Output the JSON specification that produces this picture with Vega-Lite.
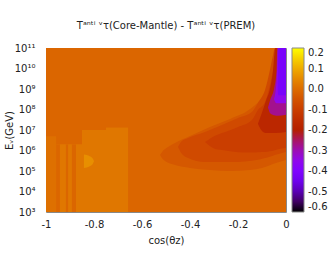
{
  "$schema": "https://vega.github.io/schema/vega-lite/v6.json",
  "width": 240,
  "height": 164,
  "autosize": {"type": "none"},
  "padding": {"left": 46, "top": 48, "right": 46, "bottom": 49},
  "background": "white",
  "config": {
    "font": "DejaVu Sans",
    "view": {"stroke": null},
    "axis": {"grid": false, "ticks": false, "domainColor": "#888888", "domainWidth": 1, "labelColor": "#222222", "titleColor": "#222222", "labelFontSize": 10, "titleFontSize": 10, "titleFontWeight": "normal", "labelFont": "DejaVu Sans", "titleFont": "DejaVu Sans"}
  },
  "title": {"text": "Tᵃⁿᵗⁱ ᵛτ(Core-Mantle) - Tᵃⁿᵗⁱ ᵛτ(PREM)", "frame": "group", "fontSize": 10, "fontWeight": "normal", "color": "#222222", "offset": 12, "font": "DejaVu Sans"},
  "datasets": {
    "cells": [
      {"c1": -1, "c2": 0, "e1": 3, "e2": 11, "T": -0.012},
      {"c1": -1, "c2": -0.958, "e1": 3, "e2": 6.7, "T": 0.008},
      {"c1": -0.958, "c2": -0.85, "e1": 3, "e2": 6.3, "T": 0.02},
      {"c1": -0.85, "c2": -0.658, "e1": 3, "e2": 7.0, "T": 0.02},
      {"c1": -0.75, "c2": -0.658, "e1": 7.0, "e2": 7.12, "T": 0.02},
      {"c1": -0.958, "c2": -0.942, "e1": 3, "e2": 6.3, "T": -0.012},
      {"c1": -0.917, "c2": -0.908, "e1": 3, "e2": 6.3, "T": -0.012},
      {"c1": -0.892, "c2": -0.875, "e1": 3, "e2": 6.3, "T": -0.012}
    ],
    "bands": [
      {"T": 0.06, "c1": -0.842, "e1": 5.15, "e2": 5.8},
      {"T": 0.06, "c1": -0.83, "e1": 5.17, "e2": 5.78},
      {"T": 0.06, "c1": -0.818, "e1": 5.23, "e2": 5.72},
      {"T": 0.06, "c1": -0.806, "e1": 5.33, "e2": 5.62},
      {"T": 0.06, "c1": -0.8, "e1": 5.47, "e2": 5.47},

      {"T": -0.04, "c1": -0.525, "e1": 5.78, "e2": 5.78},
      {"T": -0.04, "c1": -0.515, "e1": 5.6, "e2": 5.95},
      {"T": -0.04, "c1": -0.504, "e1": 5.49, "e2": 6.07},
      {"T": -0.04, "c1": -0.4625, "e1": 5.29, "e2": 6.37},
      {"T": -0.04, "c1": -0.4, "e1": 5.15, "e2": 6.71},
      {"T": -0.04, "c1": -0.317, "e1": 5.05, "e2": 7.15},
      {"T": -0.04, "c1": -0.233, "e1": 5.0, "e2": 7.54},
      {"T": -0.04, "c1": -0.15, "e1": 5.05, "e2": 8.02},
      {"T": -0.04, "c1": -0.1, "e1": 5.15, "e2": 8.61},
      {"T": -0.04, "c1": -0.075, "e1": 5.24, "e2": 9.2},
      {"T": -0.04, "c1": -0.054, "e1": 5.34, "e2": 10.17},
      {"T": -0.04, "c1": -0.042, "e1": 5.39, "e2": 11},
      {"T": -0.04, "c1": 0, "e1": 5.54, "e2": 11},

      {"T": -0.07, "c1": -0.45, "e1": 6.17, "e2": 6.17},
      {"T": -0.07, "c1": -0.435, "e1": 5.85, "e2": 6.45},
      {"T": -0.07, "c1": -0.408, "e1": 5.63, "e2": 6.61},
      {"T": -0.07, "c1": -0.3375, "e1": 5.44, "e2": 6.9},
      {"T": -0.07, "c1": -0.267, "e1": 5.44, "e2": 7.24},
      {"T": -0.07, "c1": -0.2, "e1": 5.44, "e2": 7.59},
      {"T": -0.07, "c1": -0.142, "e1": 5.5, "e2": 7.88},
      {"T": -0.07, "c1": -0.117, "e1": 5.55, "e2": 8.32},
      {"T": -0.07, "c1": -0.0875, "e1": 5.63, "e2": 8.95},
      {"T": -0.07, "c1": -0.067, "e1": 5.7, "e2": 9.93},
      {"T": -0.07, "c1": -0.054, "e1": 5.75, "e2": 10.66},
      {"T": -0.07, "c1": -0.046, "e1": 5.78, "e2": 11},
      {"T": -0.07, "c1": -0.017, "e1": 5.88, "e2": 11},
      {"T": -0.07, "c1": 0, "e1": 5.93, "e2": 11},

      {"T": -0.1, "c1": -0.3375, "e1": 6.41, "e2": 6.41},
      {"T": -0.1, "c1": -0.3, "e1": 6.1, "e2": 6.7},
      {"T": -0.1, "c1": -0.267, "e1": 6.02, "e2": 6.85},
      {"T": -0.1, "c1": -0.2, "e1": 5.92, "e2": 7.15},
      {"T": -0.1, "c1": -0.142, "e1": 5.9, "e2": 7.49},
      {"T": -0.1, "c1": -0.117, "e1": 5.92, "e2": 7.98},
      {"T": -0.1, "c1": -0.0875, "e1": 5.93, "e2": 8.37},
      {"T": -0.1, "c1": -0.067, "e1": 5.96, "e2": 9.2},
      {"T": -0.1, "c1": -0.05, "e1": 6.0, "e2": 10.17},
      {"T": -0.1, "c1": -0.0375, "e1": 6.05, "e2": 11},
      {"T": -0.1, "c1": 0, "e1": 6.12, "e2": 11},

      {"T": -0.17, "c1": -0.117, "e1": 7.3, "e2": 7.3},
      {"T": -0.17, "c1": -0.1, "e1": 6.95, "e2": 7.85},
      {"T": -0.17, "c1": -0.083, "e1": 6.85, "e2": 8.45},
      {"T": -0.17, "c1": -0.067, "e1": 6.85, "e2": 9.0},
      {"T": -0.17, "c1": -0.054, "e1": 6.85, "e2": 9.9},
      {"T": -0.17, "c1": -0.045, "e1": 6.85, "e2": 11},
      {"T": -0.17, "c1": 0, "e1": 6.9, "e2": 11},

      {"T": -0.275, "c1": -0.075, "e1": 8.1, "e2": 8.1},
      {"T": -0.275, "c1": -0.065, "e1": 7.8, "e2": 8.5},
      {"T": -0.275, "c1": -0.05, "e1": 7.72, "e2": 9.0},
      {"T": -0.275, "c1": -0.04, "e1": 7.7, "e2": 9.8},
      {"T": -0.275, "c1": -0.036, "e1": 7.7, "e2": 11},
      {"T": -0.275, "c1": 0, "e1": 7.75, "e2": 11},

      {"T": -0.35, "c1": -0.05, "e1": 8.5, "e2": 8.5},
      {"T": -0.35, "c1": -0.04, "e1": 8.3, "e2": 9.3},
      {"T": -0.35, "c1": -0.036, "e1": 8.3, "e2": 10.3},
      {"T": -0.35, "c1": -0.034, "e1": 8.3, "e2": 11},
      {"T": -0.35, "c1": 0, "e1": 8.3, "e2": 11},

      {"T": -0.42, "c1": -0.034, "e1": 9.1, "e2": 9.1},
      {"T": -0.42, "c1": -0.032, "e1": 8.7, "e2": 11},
      {"T": -0.42, "c1": 0, "e1": 8.7, "e2": 11}
    ],
    "yticks": [
      {"v": 3, "m": 1}, {"v": 3.30103, "m": 0}, {"v": 3.47712, "m": 0}, {"v": 3.60206, "m": 0}, {"v": 3.69897, "m": 0}, {"v": 3.77815, "m": 0}, {"v": 3.8451, "m": 0}, {"v": 3.90309, "m": 0}, {"v": 3.95424, "m": 0},
      {"v": 4, "m": 1}, {"v": 4.30103, "m": 0}, {"v": 4.47712, "m": 0}, {"v": 4.60206, "m": 0}, {"v": 4.69897, "m": 0}, {"v": 4.77815, "m": 0}, {"v": 4.8451, "m": 0}, {"v": 4.90309, "m": 0}, {"v": 4.95424, "m": 0},
      {"v": 5, "m": 1}, {"v": 5.30103, "m": 0}, {"v": 5.47712, "m": 0}, {"v": 5.60206, "m": 0}, {"v": 5.69897, "m": 0}, {"v": 5.77815, "m": 0}, {"v": 5.8451, "m": 0}, {"v": 5.90309, "m": 0}, {"v": 5.95424, "m": 0},
      {"v": 6, "m": 1}, {"v": 6.30103, "m": 0}, {"v": 6.47712, "m": 0}, {"v": 6.60206, "m": 0}, {"v": 6.69897, "m": 0}, {"v": 6.77815, "m": 0}, {"v": 6.8451, "m": 0}, {"v": 6.90309, "m": 0}, {"v": 6.95424, "m": 0},
      {"v": 7, "m": 1}, {"v": 7.30103, "m": 0}, {"v": 7.47712, "m": 0}, {"v": 7.60206, "m": 0}, {"v": 7.69897, "m": 0}, {"v": 7.77815, "m": 0}, {"v": 7.8451, "m": 0}, {"v": 7.90309, "m": 0}, {"v": 7.95424, "m": 0},
      {"v": 8, "m": 1}, {"v": 8.30103, "m": 0}, {"v": 8.47712, "m": 0}, {"v": 8.60206, "m": 0}, {"v": 8.69897, "m": 0}, {"v": 8.77815, "m": 0}, {"v": 8.8451, "m": 0}, {"v": 8.90309, "m": 0}, {"v": 8.95424, "m": 0},
      {"v": 9, "m": 1}, {"v": 9.30103, "m": 0}, {"v": 9.47712, "m": 0}, {"v": 9.60206, "m": 0}, {"v": 9.69897, "m": 0}, {"v": 9.77815, "m": 0}, {"v": 9.8451, "m": 0}, {"v": 9.90309, "m": 0}, {"v": 9.95424, "m": 0},
      {"v": 10, "m": 1}, {"v": 10.30103, "m": 0}, {"v": 10.47712, "m": 0}, {"v": 10.60206, "m": 0}, {"v": 10.69897, "m": 0}, {"v": 10.77815, "m": 0}, {"v": 10.8451, "m": 0}, {"v": 10.90309, "m": 0}, {"v": 10.95424, "m": 0},
      {"v": 11, "m": 1}
    ],
    "xticks": [{"u": -0.8}, {"u": -0.6}, {"u": -0.4}, {"u": -0.2}]
  },
  "encoding": {
    "x": {"field": "c1", "type": "quantitative", "scale": {"domain": [-1, 0], "nice": false, "zero": false}, "axis": null},
    "y": {"field": "e1", "type": "quantitative", "scale": {"domain": [3, 11], "nice": false, "zero": false}, "axis": null, "stack": null},
    "y2": {"field": "e2"},
    "color": {
      "field": "T", "type": "quantitative",
      "scale": {"domain": [-0.6,-0.575,-0.55,-0.525,-0.5,-0.475,-0.45,-0.425,-0.4,-0.375,-0.35,-0.325,-0.3,-0.275,-0.25,-0.225,-0.2,-0.175,-0.15,-0.125,-0.1,-0.075,-0.05,-0.025,0,0.025,0.05,0.075,0.1,0.125,0.15,0.175,0.2],
        "range": ["#000000","#2d0032","#400062","#4e008e","#5a00b4","#6501d4","#6e02ec","#7703fa","#8004ff","#8706fa","#8f08ec","#960ad4","#9c0db4","#a3118e","#a91562","#af1a32","#b42000","#ba2600","#bf2d00","#c43500","#ca3e00","#cf4800","#d35300","#d85f00","#dd6c00","#e17a00","#e68900","#ea9900","#efab00","#f3be00","#f7d200","#fbe800","#ffff00"],
        "interpolate": "rgb"},
      "legend": {"type": "gradient", "orient": "right", "direction": "vertical", "offset": 6, "padding": 0, "title": null, "gradientLength": 164, "gradientThickness": 12, "values": [-0.6,-0.5,-0.4,-0.3,-0.2,-0.1,0,0.1,0.2], "labelExpr": "(datum.value < -0.001 ? '-' : '') + format(abs(datum.value), '.1f')", "labelFontSize": 10, "labelColor": "#222222", "labelOffset": 4, "labelOverlap": false, "labelBaseline": "middle", "gradientStrokeColor": "#888888", "gradientStrokeWidth": 1, "labelFont": "DejaVu Sans"}
    }
  },
  "layer": [
    {
      "data": {"name": "cells"},
      "mark": {"type": "rect"},
      "encoding": {
        "x": {"field": "c1", "type": "quantitative", "scale": {"domain": [-1, 0], "nice": false, "zero": false},
          "axis": {"orient": "bottom", "values": [-1, -0.8, -0.6, -0.4, -0.2, 0], "labelExpr": "datum.value == 0 ? '0' : (datum.value < -0.99 ? '-1' : '-' + format(-datum.value, '.1f'))", "labelPadding": 7.5, "labelFlush": false, "labelOverlap": false, "title": "cos(θz)", "titlePadding": 6}},
        "x2": {"field": "c2"},
        "y": {"field": "e1", "type": "quantitative", "scale": {"domain": [3, 11], "nice": false, "zero": false},
          "axis": {"orient": "left", "values": [3, 4, 5, 6, 7, 8, 9, 10, 11],
            "labelExpr": "'10' + ['³','⁴','⁵','⁶','⁷','⁸','⁹','¹⁰','¹¹'][round(datum.value) - 3]",
            "labelPadding": 11, "labelOverlap": false, "labelFlush": false, "title": "Eᵥ(GeV)", "titlePadding": 0}}
      }
    },
    {"data": {"name": "bands"}, "transform": [{"filter": "datum.T == 0.06"}], "mark": {"type": "area", "interpolate": "monotone"}},
    {"data": {"name": "bands"}, "transform": [{"filter": "datum.T == -0.04"}], "mark": {"type": "area", "interpolate": "monotone"}},
    {"data": {"name": "bands"}, "transform": [{"filter": "datum.T == -0.07"}], "mark": {"type": "area", "interpolate": "monotone"}},
    {"data": {"name": "bands"}, "transform": [{"filter": "datum.T == -0.1"}], "mark": {"type": "area", "interpolate": "monotone"}},
    {"data": {"name": "bands"}, "transform": [{"filter": "datum.T == -0.17"}], "mark": {"type": "area", "interpolate": "monotone"}},
    {"data": {"name": "bands"}, "transform": [{"filter": "datum.T == -0.275"}], "mark": {"type": "area", "interpolate": "monotone"}},
    {"data": {"name": "bands"}, "transform": [{"filter": "datum.T == -0.35"}], "mark": {"type": "area", "interpolate": "monotone"}},
    {
      "data": {"name": "bands"},
      "transform": [{"filter": "datum.T == -0.42"}],
      "mark": {"type": "area", "interpolate": "monotone"},
      "encoding": {
        "x": {"field": "c1", "type": "quantitative", "scale": {"domain": [-1, 0], "nice": false, "zero": false},
          "axis": {"orient": "top", "labels": false, "values": [-1, 0], "title": null}},
        "y": {"field": "e1", "type": "quantitative", "scale": {"domain": [3, 11], "nice": false, "zero": false}, "stack": null,
          "axis": {"orient": "right", "labels": false, "values": [3, 11], "title": null}}
      }
    },
    {
      "data": {"name": "yticks"},
      "mark": {"type": "tick", "orient": "horizontal", "clip": true, "thickness": 1, "opacity": 1},
      "encoding": {
        "x": {"datum": -1, "type": "quantitative"},
        "y": {"field": "v", "type": "quantitative"},
        "color": {"value": "#000000"},
        "size": {"condition": {"test": "datum.m == 1", "value": 16}, "value": 8}
      }
    },
    {
      "data": {"name": "yticks"},
      "mark": {"type": "tick", "orient": "horizontal", "clip": true, "thickness": 1, "opacity": 1},
      "encoding": {
        "x": {"datum": 0, "type": "quantitative"},
        "y": {"field": "v", "type": "quantitative"},
        "color": {"value": "#000000"},
        "size": {"condition": {"test": "datum.m == 1", "value": 16}, "value": 8}
      }
    },
    {
      "data": {"name": "xticks"},
      "mark": {"type": "tick", "orient": "vertical", "clip": true, "thickness": 1, "opacity": 1, "size": 9},
      "encoding": {
        "x": {"field": "u", "type": "quantitative"},
        "y": {"datum": 3, "type": "quantitative"},
        "color": {"value": "#000000"}
      }
    },
    {
      "data": {"name": "xticks"},
      "mark": {"type": "tick", "orient": "vertical", "clip": true, "thickness": 1, "opacity": 1, "size": 9},
      "encoding": {
        "x": {"field": "u", "type": "quantitative"},
        "y": {"datum": 11, "type": "quantitative"},
        "color": {"value": "#000000"}
      }
    }
  ],
  "resolve": {"axis": {"x": "independent", "y": "independent"}}
}
